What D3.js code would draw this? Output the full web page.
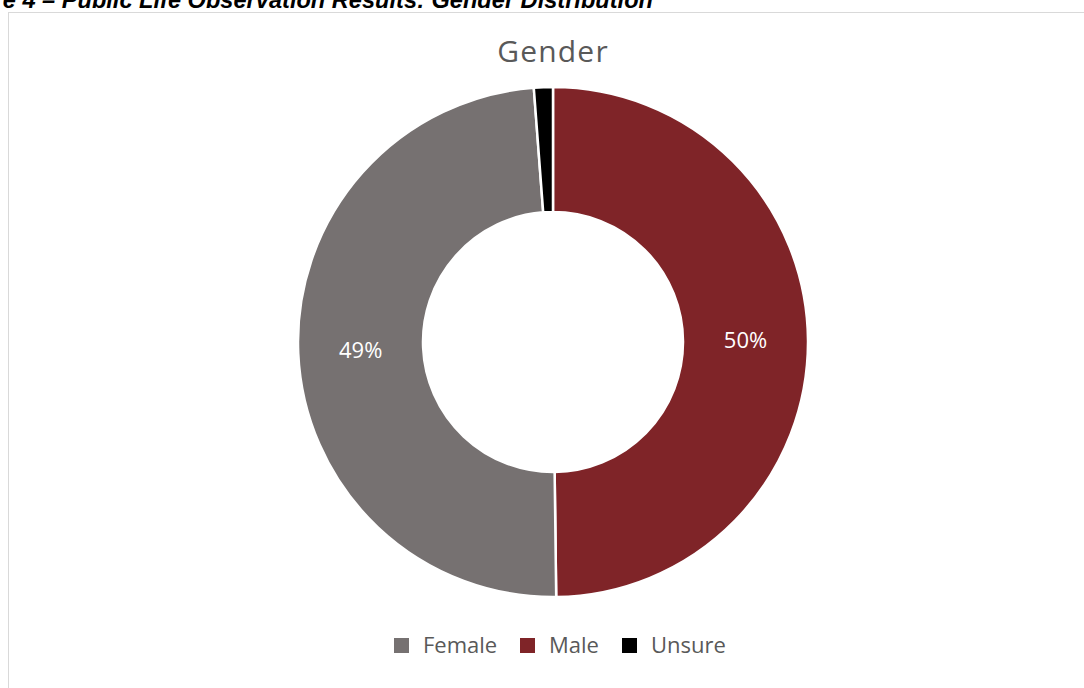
<!DOCTYPE html>
<html><head><meta charset="utf-8">
<script src="https://cdn.jsdelivr.net/npm/d3@7"></script>
<style>html,body{margin:0;padding:0;background:#fff;}svg{display:block;}</style>
</head><body>
<svg id="c" width="1084" height="688"></svg>
<script>
const categories = ["Female", "Male", "Unsure"];
const values = [49.0, 49.8, 1.2];
const labels = ["49%", "50%", ""];
const colors = ["#767171", "#7F2428", "#000000"];
const pieOrder = ["Male", "Female", "Unsure"];

const svg = d3.select("#c");
const FONT = "Open Sans, Noto Sans, sans-serif";

// caption (cut off at top-left as in reference)
svg.append("text").attr("x", 653).attr("y", 8).attr("text-anchor", "end")
  .attr("font-family", "Liberation Sans, Arial, sans-serif").attr("font-weight", "bold")
  .attr("font-style", "italic").attr("font-size", 23.6).attr("fill", "#000")
  .text("e 4 \u2013 Public Life Observation Results: Gender Distribution");

// chart frame
svg.append("rect").attr("x", 8.5).attr("y", 12.5).attr("width", 1090).attr("height", 700)
  .attr("fill", "none").attr("stroke", "#d9d9d9").attr("stroke-width", 1);

svg.append("text").attr("x", 553).attr("y", 62).attr("text-anchor", "middle")
  .attr("font-family", FONT).attr("font-size", 30).attr("letter-spacing", 1.2)
  .attr("fill", "#595959").text("Gender");

const cx = 553, cy = 342, R = 255, r = 130;
const data = pieOrder.map(n => { const i = categories.indexOf(n); return {name: n, value: values[i], label: labels[i], color: colors[i]}; });
const pie = d3.pie().sort(null).value(d => d.value);
const arc = d3.arc().innerRadius(r).outerRadius(R);
const labelArc = d3.arc().innerRadius((R + r) / 2).outerRadius((R + r) / 2);
const g = svg.append("g").attr("transform", `translate(${cx},${cy})`);
const arcs = pie(data);
g.selectAll("path").data(arcs).join("path")
  .attr("d", arc).attr("fill", d => d.data.color)
  .attr("stroke", "#fff").attr("stroke-width", 2.5);
g.selectAll("text").data(arcs).join("text")
  .attr("transform", d => `translate(${labelArc.centroid(d)})`)
  .attr("text-anchor", "middle").attr("dy", "0.35em")
  .attr("font-family", FONT).attr("font-size", 22)
  .attr("fill", "#fff").text(d => d.data.label);

// legend
const legX = [394, 520, 622];
const lg = svg.append("g");
categories.forEach((c, i) => {
  lg.append("rect").attr("x", legX[i]).attr("y", 638).attr("width", 15).attr("height", 15).attr("fill", colors[i]);
  lg.append("text").attr("x", legX[i] + 29).attr("y", 653)
    .attr("font-family", FONT).attr("font-size", 22)
    .attr("fill", "#595959").text(c);
});
</script>
</body></html>
